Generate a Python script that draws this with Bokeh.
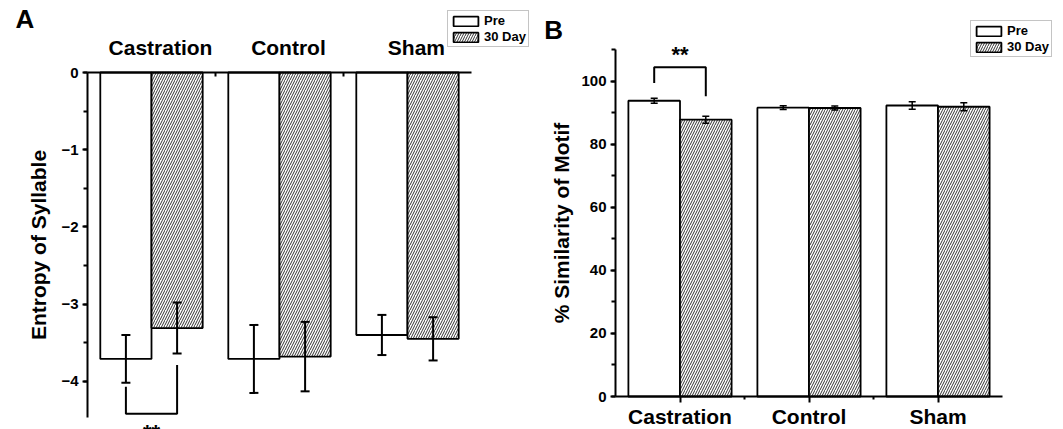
from bokeh.plotting import figure
from bokeh.models import (Range1d, FixedTicker, SingleIntervalTicker, Whisker, TeeHead,
                          ColumnDataSource, Legend, LegendItem, Label)
from bokeh.layouts import row
from bokeh.embed import file_html
from bokeh.resources import INLINE

# ---------------- data ----------------
groups = ["Castration", "Control", "Sham"]
series = ["Pre", "30 Day"]

entropy_pre = [-3.71, -3.71, -3.40]
entropy_pre_err = [0.31, 0.44, 0.26]
entropy_30 = [-3.31, -3.68, -3.45]
entropy_30_err = [0.33, 0.45, 0.28]

similarity_pre = [93.8, 91.6, 92.3]
similarity_pre_err = [0.8, 0.6, 1.2]
similarity_30 = [87.8, 91.5, 91.9]
similarity_30_err = [1.1, 0.6, 1.3]

# significance brackets: (left leg top, bar level, right leg top)
entropy_sig = [-4.07, -4.42, -3.79]
similarity_sig = [99.4, 104.4, 95.2]
sig_text = "**"

FONT = "Liberation Sans"
H = 429
centers = [i + 0.5 for i in range(len(groups))]
off = 0.2
bw = 0.4
x_pre = [c - off for c in centers]
x_30 = [c + off for c in centers]


def style_common(p):
    p.outline_line_color = None
    p.xgrid.grid_line_color = None
    p.ygrid.grid_line_color = None
    p.background_fill_color = "white"
    p.border_fill_color = "white"
    p.min_border_left = 0
    p.min_border_right = 0
    p.min_border_top = 0
    p.min_border_bottom = 0


def make_legend(r_pre, r_30, loc):
    lg = Legend(items=[LegendItem(label=series[0], renderers=[r_pre]),
                       LegendItem(label=series[1], renderers=[r_30])],
                location=loc, orientation="vertical")
    lg.border_line_color = "#8a8a8a"
    lg.border_line_width = 1
    lg.background_fill_color = "white"
    lg.background_fill_alpha = 1
    lg.padding = 2
    lg.spacing = 1
    lg.margin = 0
    lg.glyph_width = 31
    lg.glyph_height = 12
    lg.label_height = 14
    lg.label_standoff = 3
    lg.label_text_font = FONT
    lg.label_text_font_size = "13px"
    lg.label_text_font_style = "bold"
    lg.label_text_color = "black"
    return lg


def add_bars(p, vals_pre, vals_30, err_pre, err_30, lw, head, wlw):
    r_pre = p.vbar(x=x_pre, top=vals_pre, bottom=0, width=bw, fill_color="white",
                   line_color="black", line_width=lw)
    r_30 = p.vbar(x=x_30, top=vals_30, bottom=0, width=bw, fill_color="white",
                  line_color="black", line_width=lw, hatch_pattern="/",
                  hatch_color="#333333", hatch_scale=5, hatch_weight=1)
    for xs, v, e in ((x_pre, vals_pre, err_pre), (x_30, vals_30, err_30)):
        src = ColumnDataSource(dict(x=xs, upper=[a + b for a, b in zip(v, e)],
                                    lower=[a - b for a, b in zip(v, e)]))
        w = Whisker(base="x", upper="upper", lower="lower", source=src,
                    dimension="height", line_width=wlw, line_color="black",
                    level="annotation",
                    upper_head=TeeHead(size=head, line_width=wlw, line_color="black"),
                    lower_head=TeeHead(size=head, line_width=wlw, line_color="black"))
        p.add_layout(w)
    return r_pre, r_30


def style_value_axis(ax, interval, label, label_standoff):
    ax.ticker = SingleIntervalTicker(interval=interval, num_minor_ticks=2)
    ax.axis_line_width = 2
    ax.major_tick_line_width = 2
    ax.minor_tick_line_width = 2
    ax.major_tick_out = 5
    ax.major_tick_in = 0
    ax.minor_tick_out = 4
    ax.minor_tick_in = 0
    ax.major_label_standoff = 4
    ax.major_label_text_font = FONT
    ax.major_label_text_font_size = "15px"
    ax.major_label_text_font_style = "bold"
    ax.major_label_text_color = "black"
    ax.axis_label = label
    ax.axis_label_text_font = FONT
    ax.axis_label_text_font_size = "21px"
    ax.axis_label_text_font_style = "bold"
    ax.axis_label_text_color = "black"
    ax.axis_label_standoff = label_standoff


# ---------------- panel A ----------------
WA = 535
A_x0, A_px = 87, 128.0      # x=0 at canvas px 87, 128 px per group
A_y0, A_py = 72, 77.2       # y=0 at canvas px 72 from top, 77.2 px per unit
A_ymin = -4.47
A_label_shift = 0.07        # group names sit slightly right of group centres
pA = figure(width=WA, height=H,
            x_range=Range1d(-A_x0 / A_px, (WA - A_x0) / A_px),
            y_range=Range1d(-(H - A_y0) / A_py, A_y0 / A_py),
            x_axis_location="above", output_backend="svg", toolbar_location=None)
style_common(pA)
rA_pre, rA_30 = add_bars(pA, entropy_pre, entropy_30, entropy_pre_err, entropy_30_err,
                         1.8, 9, 2)

label_pos = [c + A_label_shift for c in centers]
xa = pA.xaxis[0]
xa.fixed_location = 0
xa.bounds = (0, len(groups))
xa.ticker = FixedTicker(ticks=label_pos, minor_ticks=[1, 2])
xa.major_label_overrides = {c: g for c, g in zip(label_pos, groups)}
xa.major_tick_out = 0
xa.major_tick_in = 0
xa.minor_tick_in = 4
xa.minor_tick_out = 0
xa.axis_line_width = 2
xa.minor_tick_line_width = 2
xa.major_label_standoff = 14
xa.major_label_text_font = FONT
xa.major_label_text_font_size = "21px"
xa.major_label_text_font_style = "bold"
xa.major_label_text_color = "black"

ya = pA.yaxis[0]
ya.fixed_location = 0
ya.bounds = (A_ymin, 0)
style_value_axis(ya, 1, "Entropy of Syllable", 8)

lx, rx = x_pre[0], x_30[0]
pA.line(x=[lx, lx, rx, rx], y=[entropy_sig[0], entropy_sig[1], entropy_sig[1], entropy_sig[2]],
        line_color="black", line_width=2)
pA.add_layout(Label(x=centers[0], y=-4.66, text=sig_text, text_align="center",
                    text_baseline="alphabetic", text_font=FONT, text_font_size="22px",
                    text_font_style="bold", text_color="black"))
pA.add_layout(Label(x=-0.49, y=0.69, text="A", text_align="center", text_baseline="middle",
                    text_font=FONT, text_font_size="26px", text_font_style="bold",
                    text_color="black"))
pA.add_layout(make_legend(rA_pre, rA_30, (447, 382)))

# ---------------- panel B ----------------
WB = 528
B_x0, B_px = 80, 129.0      # x=0 at canvas px 80, 129 px per group
B_y0, B_py = 396, 3.153     # y=0 at canvas px 396 from top, 3.153 px per unit
B_ymax = 110
pB = figure(width=WB, height=H,
            x_range=Range1d(-B_x0 / B_px, (WB - B_x0) / B_px),
            y_range=Range1d(-(H - B_y0) / B_py, B_y0 / B_py),
            output_backend="svg", toolbar_location=None)
style_common(pB)
rB_pre, rB_30 = add_bars(pB, similarity_pre, similarity_30, similarity_pre_err,
                         similarity_30_err, 1.8, 7, 1.5)

xb = pB.xaxis[0]
xb.fixed_location = 0
xb.bounds = (0, len(groups))
xb.ticker = FixedTicker(ticks=centers, minor_ticks=[1, 2])
xb.major_label_overrides = {c: g for c, g in zip(centers, groups)}
xb.major_label_standoff = 2
xb.major_label_text_font = FONT
xb.major_label_text_font_size = "21px"
xb.major_label_text_font_style = "bold"
xb.major_label_text_color = "black"
xb.major_tick_out = 6
xb.major_tick_in = 0
xb.minor_tick_out = 3
xb.minor_tick_in = 0
xb.axis_line_width = 2
xb.major_tick_line_width = 2
xb.minor_tick_line_width = 2

yb = pB.yaxis[0]
yb.fixed_location = 0
yb.bounds = (0, B_ymax)
style_value_axis(yb, 20, "% Similarity of Motif", 5)

lx, rx = x_pre[0], x_30[0]
pB.line(x=[lx, lx, rx, rx],
        y=[similarity_sig[0], similarity_sig[1], similarity_sig[1], similarity_sig[2]],
        line_color="black", line_width=2)
pB.add_layout(Label(x=centers[0], y=108.5, text=sig_text, text_align="center",
                    text_baseline="alphabetic", text_font=FONT, text_font_size="22px",
                    text_font_style="bold", text_color="black"))
pB.add_layout(Label(x=-0.48, y=116.1, text="B", text_align="center", text_baseline="middle",
                    text_font=FONT, text_font_size="26px", text_font_style="bold",
                    text_color="black"))
pB.add_layout(make_legend(rB_pre, rB_30, (435, 372)))

layout = row(pA, pB, spacing=0)
open("out.html", "w").write(file_html(layout, INLINE))
